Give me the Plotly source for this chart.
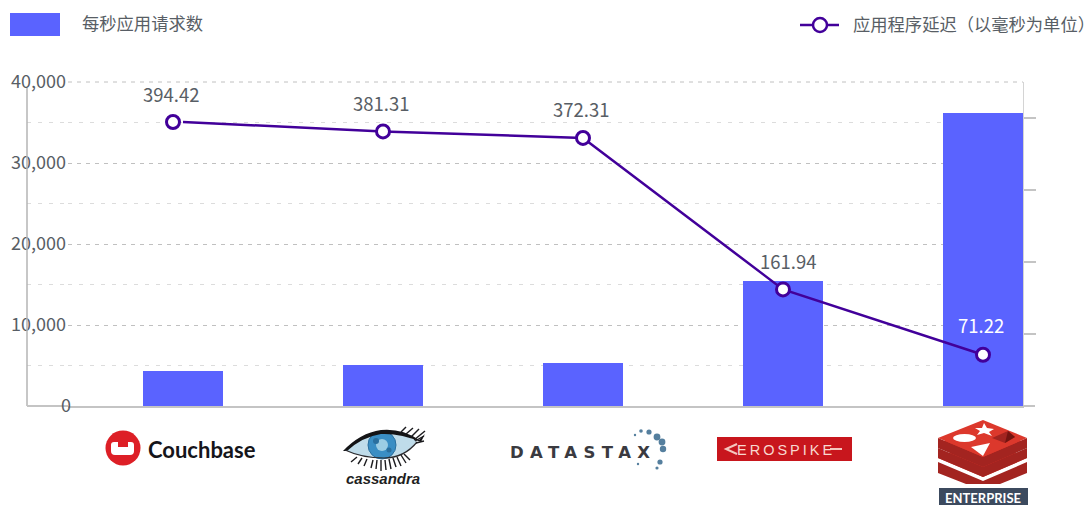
import plotly.graph_objects as go

categories = ["Couchbase", "Cassandra", "DataStax", "Aerospike", "Redis Enterprise"]
category_pos = [0, 1, 2, 3, 4]
requests_per_sec = [4320, 5060, 5310, 15430, 36170]
marker_pos = [-0.05, 1, 2, 3, 4]
latency_ms = [394.42, 381.31, 372.31, 161.94, 71.22]
latency_labels = ["394.42", "381.31", "372.31", "161.94", "71.22"]
left_ticks = [10000, 20000, 30000, 40000]
left_minor_ticks = [5000, 15000, 25000, 35000]
right_ticks = [100, 200, 300, 400]
bar_legend = "每秒应用请求数"
line_legend = "应用程序延迟（以毫秒为单位）"

FONT = "Noto Sans CJK SC"
TEXT = "#585e65"
BAR = "#5a63ff"
LINE = "#42009a"
AXIS = "#c4c4c4"

P, L, R, T, B = 66, 68, 1023, 82, 406


def fx(x):
    return (x - P) / (R - P)


def fy(y):
    return (B - y) / (B - T)


def pth(s):
    out, is_x = [], True
    for tok in s.split():
        if tok[0].isalpha():
            out.append(tok)
            is_x = True
        else:
            v = float(tok)
            out.append(f"{fx(v) if is_x else fy(v):.5f}")
            is_x = not is_x
    return " ".join(out)


shapes, notes = [], []


def paper(**k):
    k.setdefault("xref", "paper")
    k.setdefault("yref", "paper")
    return k


def poly(s, fill, line=None, w=0):
    shapes.append(paper(type="path", path=pth(s), fillcolor=fill, layer="above",
                        line=dict(color=line or fill, width=w)))


def stroke(s, color, w):
    shapes.append(paper(type="path", path=pth(s), line=dict(color=color, width=w)))


def seg(x0, y0, x1, y1, color, w, dash=None, layer="above"):
    shapes.append(paper(type="line", x0=fx(x0), x1=fx(x1), y0=fy(y0), y1=fy(y1), layer=layer,
                        line=dict(color=color, width=w, dash=dash)))


def rect(x0, y0, x1, y1, fill):
    shapes.append(paper(type="rect", x0=fx(x0), x1=fx(x1), y0=fy(y0), y1=fy(y1),
                        fillcolor=fill, line=dict(width=0)))


def circle(cx, cy, r, fill, line=None, w=0):
    shapes.append(paper(type="circle", x0=fx(cx - r), x1=fx(cx + r), y0=fy(cy + r), y1=fy(cy - r),
                        fillcolor=fill, line=dict(color=line or fill, width=w)))


def label(x, y, text, size=17.3, color=TEXT, family=FONT, anchor="center"):
    notes.append(dict(xref="paper", yref="paper", x=fx(x), y=fy(y), text=text, showarrow=False,
                      xanchor=anchor, yanchor="middle", borderpad=0,
                      font=dict(size=size, color=color, family=family)))


# axis pieces that reach past the plotting box
seg(27, 88, 27, B, "#b4b4b4", 1.5)
seg(27, B, L, B, AXIS, 2)
seg(R, B, 1035, B, AXIS, 2)
seg(L, T, R, T, "#c0c0c0", 1, "4px,5px", layer="below")
for v in left_minor_ticks:
    y = B - v / 40000 * (B - T)
    seg(27, y, L, y, "#dcdcdc", 1, "4px,7px", layer="below")

# legend
rect(10, 13, 60, 36, BAR)
label(80.5, 22.5, bar_legend, anchor="left")
seg(800, 25, 839, 25, LINE, 2.5)
circle(820, 25, 7, "white", LINE, 2.5)
label(852, 23.5, line_legend[:-1] + '<span style="letter-spacing:-9px">' + line_legend[-1] + "</span>",
      anchor="left")

# Couchbase logo
circle(123, 448, 17.5, "#dd1f26")
poly("M 111 445 Q 111 442 114 442 L 118 442 L 118 447 L 128 447 L 128 442 L 131 442 "
     "Q 134 442 134 445 L 134 451 Q 134 455 130 455 L 115 455 Q 111 455 111 451 Z", "white")
label(201.5, 449, "<b>Couchbase</b>", size=22, color="#15151a", family="Lato")

# Cassandra logo
poly("M 345 450 Q 362 436 380 434 Q 400 432 417 441 Q 404 458 384 458 Q 362 458 345 450 Z", "#bfdcea")
circle(382, 445, 14, "#3a8ec4", "#2a6f9e", 1)
circle(382, 445, 6, "#9ccde4")
circle(376, 441, 3, "#2a6f9e")
circle(389, 450, 2.5, "#2a6f9e")
poly("M 343 451 Q 360 433 381 430 Q 402 428 419 440 L 425 434 L 421 442 Q 400 433 381 434 "
     "Q 362 437 347 451 Z", "#141416")
stroke("M 345 450 Q 362 458 384 458 Q 404 458 417 442", "#2a2a2e", 1.2)
for x0, y0, x1, y1 in [(414, 440, 425, 431), (415, 441, 424, 436), (411, 437, 419, 429),
                       (406, 434, 413, 428), (401, 432, 406, 427), (416, 443, 424, 441),
                       (357, 457, 351, 462), (362, 458, 358, 464), (367, 459, 364, 466),
                       (373, 460, 371, 468), (377, 460, 376, 469), (381, 460, 381, 471),
                       (385, 460, 386, 470), (389, 459, 391, 469), (393, 458, 396, 467),
                       (397, 457, 401, 466), (401, 455, 406, 463), (404, 454, 410, 460)]:
    seg(x0, y0, x1, y1, "#1b1b1e", 1.4)
label(382.5, 478, "<b><i>cassandra</i></b>", size=15, color="#1f1f22", family="Liberation Sans")

# DataStax logo
label(583, 452, '<b><span style="letter-spacing:6.4px">DATASTAX</span></b>', size=16.5,
      color="#3a3a40", family="DejaVu Sans")
for x, y, r in [(635, 435, 1.2), (641, 431, 1.8), (649, 432, 2.6), (657, 437, 3.4), (662, 442, 3.4),
                (663, 449, 3.2), (660, 462, 2.6), (657, 468, 1.6), (638, 464, 1.2)]:
    circle(x, y, r, "#557f9e")

# Aerospike logo
rect(717, 437, 852, 461, "#c8161d")
stroke("M 737 444 L 726 449 L 737 454", "#f4c7be", 2)
seg(830, 449, 842, 449, "#f4c7be", 2)
label(786, 449.5, '<span style="letter-spacing:3px">EROSPIKE</span>', size=14.5, color="#f8d8d0",
      family="Liberation Sans")

# Redis Enterprise logo
poly("M 938 462 L 983 481 L 1027 462 L 1027 473 L 1000 484 L 966 484 L 938 473 Z", "#a32420")
poly("M 938 458 L 983 440 L 1027 458 L 983 477 Z", "#d9342a")
poly("M 938 448 L 983 467 L 1027 448 L 1027 458 L 983 477 L 938 458 Z", "#a32420")
poly("M 938 444 L 983 426 L 1027 444 L 983 463 Z", "#d9342a")
poly("M 938 438 L 983 457 L 1027 438 L 1027 448 L 983 467 L 938 448 Z", "#a32420")
poly("M 938 438 L 983 420 L 1027 438 L 983 457 Z", "#dc382c")
shapes.append(paper(type="circle", x0=fx(953), x1=fx(976), y0=fy(442), y1=fy(434),
                    fillcolor="white", line=dict(width=0)))
poly("M 984 423 L 987 428 L 994 429 L 989 432 L 992 436 L 984 433 L 977 435 L 980 431 L 975 428 L 982 428 Z", "white")
poly("M 971 447 L 990 443 L 983 456 Z", "white")
poly("M 992 438 L 1008 431 L 1015 437 L 1005 443 Z", "#a32420")
poly("M 1008 431 L 1015 437 L 1005 443 Z", "#741410")
rect(939, 488, 1028, 505, "#3c4a5e")
label(983, 497.5, "<b>ENTERPRISE</b>", size=13, color="white", family="Lato")

# "0" sits apart from the other tick labels
notes.append(dict(xref="paper", yref="y", x=fx(65.5), y=0, yshift=2, text="0", showarrow=False,
                  xanchor="center", yanchor="middle", font=dict(size=18, color=TEXT, family=FONT)))

# value labels, tied to the latency points
for i, (xv, yv, t) in enumerate(zip(marker_pos, latency_ms, latency_labels)):
    dx = 5 if i == 3 else -2.5
    notes.append(dict(xref="x", yref="y2", x=xv, y=yv, text=t, showarrow=False,
                      yshift=30 if i == 4 else 28.5, xshift=dx, xanchor="center", yanchor="middle",
                      font=dict(size=18.5, color="white" if i == 4 else TEXT, family=FONT)))

fig = go.Figure()
fig.add_trace(go.Bar(x=category_pos, y=requests_per_sec, width=0.4, marker=dict(color=BAR, line=dict(width=0)),
                     name=bar_legend, hovertext=categories, yaxis="y"))
fig.add_trace(go.Scatter(x=category_pos, y=latency_ms, mode="lines", name=line_legend,
                         line=dict(color=LINE, width=2.5), hovertext=categories, yaxis="y2"))
fig.add_trace(go.Scatter(x=marker_pos, y=latency_ms, mode="markers", showlegend=False, yaxis="y2",
                         hoverinfo="skip",
                         marker=dict(size=13, color="white", line=dict(color=LINE, width=3))))

fig.update_layout(
    width=1085, height=505, showlegend=False, paper_bgcolor="white", plot_bgcolor="white",
    margin=dict(l=P, r=1085 - R, t=T, b=505 - B, pad=0),
    font=dict(family=FONT, color=TEXT, size=18),
    shapes=shapes, annotations=notes, bargap=0.6,
    xaxis=dict(domain=[fx(L), 1], range=[-0.575, 4.2], showgrid=False, zeroline=False,
               showticklabels=False, ticks="", showline=True, linecolor=AXIS, linewidth=2),
    yaxis=dict(range=[0, 40000], anchor="free", position=0, tickvals=left_ticks, tickformat=",",
               ticks="", zeroline=False, automargin=False,
               showgrid=True, gridcolor="#c0c0c0", griddash="4px,5px", gridwidth=1,
               tickfont=dict(size=18, color=TEXT, family=FONT),
               minor=dict(tickvals=left_minor_ticks, showgrid=True, gridcolor="#dcdcdc",
                          griddash="4px,7px", gridwidth=1, ticks="")),
    yaxis2=dict(range=[0, 450], overlaying="y", side="right", tickvals=right_ticks, showticklabels=False,
                ticks="outside", ticklen=12, tickcolor=AXIS, tickwidth=1.5, showgrid=False, zeroline=False,
                showline=True, linecolor="#d4d4d4", linewidth=1),
)

fig.write_html("out.html", config=dict(displayModeBar=False),
               post_script="document.body.style.margin='0';document.body.style.overflow='hidden';")
